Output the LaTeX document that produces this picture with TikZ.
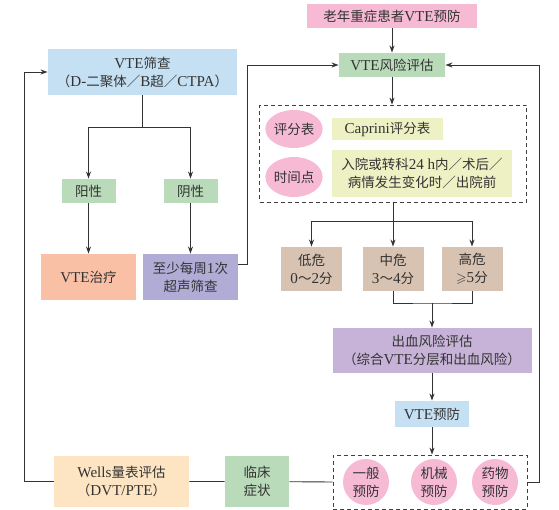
\documentclass[tikz,border=0pt]{standalone}
\usepackage{fontspec}
\usepackage{amssymb}
\setmainfont{Liberation Serif}[Scale=1.12]
\newfontfamily\cjk{Noto Sans CJK SC}
\usetikzlibrary{arrows.meta,shapes.geometric}
\definecolor{cpink}{HTML}{F7BAD5}
\definecolor{cgreen}{HTML}{B9DBBA}
\definecolor{cyellow}{HTML}{EEF1C3}
\definecolor{ctan}{HTML}{D8C3B2}
\definecolor{cpurple}{HTML}{C8B3D8}
\definecolor{cblue}{HTML}{C6E0F3}
\definecolor{corange}{HTML}{FDE4C3}
\definecolor{csalmon}{HTML}{F9C0A6}
\definecolor{clavender}{HTML}{B1ACD6}
\begin{document}
\begin{tikzpicture}[x=1pt,y=-1pt,line width=0.9pt,>={Stealth[length=7pt,width=5pt]},
  box/.style={inner sep=0pt,align=center,text=black!80,
    font=\cjk\fontsize{13.5}{18}\selectfont},
  wh/.style 2 args={minimum width=#1pt,minimum height=#2pt},
  dashbox/.style={draw=black!75,dash pattern=on 4pt off 3pt,line width=0.8pt,inner sep=0pt},
  link/.style={draw=black!80}]
\useasboundingbox (0,0) rectangle (559,510);
% ================= right column: risk assessment =================
\node[box,fill=cpink,wh={170}{24}] (elder) at (392,16) {老年重症患者\textrm{VTE}预防};
\node[box,fill=cgreen,wh={106}{24}] (risk) at (392,65) {\textrm{VTE}风险评估};
\node[dashbox,wh={267}{97}] (evalbox) at (393,153.5) {};
\node[box,ellipse,fill=cpink,wh={56}{38}] (scale) at (294,129) {评分表};
\node[box,fill=cyellow,wh={111}{22}] (caprini) at (387.5,129) {\textrm{Caprini}评分表};
\node[box,ellipse,fill=cpink,wh={56}{40}] (timing) at (294,177) {时间点};
\node[box,fill=cyellow,wh={180}{47}] (moment) at (422,173.5)
  {入院或转科\textrm{24 h}内／术后／\\病情发生变化时／出院前};
% risk levels
\node[box,fill=ctan,wh={61}{44}] (low) at (311.5,269) {低危\\\textrm{0}～\textrm{2}分};
\node[box,fill=ctan,wh={61}{44}] (mid) at (393,269) {中危\\\textrm{3}～\textrm{4}分};
\node[box,fill=ctan,wh={61}{44}] (high) at (472,269) {高危\\$\geqslant$\textrm{5}分};
\node[box,fill=cpurple,wh={199}{45}] (bleed) at (432,350.5)
  {出血风险评估\\（综合\textrm{VTE}分层和出血风险）};
\node[box,fill=cblue,wh={74}{26}] (prev) at (432,414) {\textrm{VTE}预防};
\node[dashbox,wh={194}{54}] (measure) at (430,482) {};
\foreach \name/\x/\txt in {general/366/一般, mech/434/机械, drug/495/药物}
  \node[box,circle,fill=cpink,minimum size=46pt] (\name) at (\x,482) {\txt\\预防};
% ================= left column: screening =================
\node[box,fill=cblue,wh={189}{46}] (screen) at (142.5,72)
  {\textrm{VTE}筛查\\（\textrm{D-}二聚体／\textrm{B}超／\textrm{CTPA}）};
\node[box,fill=cgreen,wh={54}{24}] (pos) at (88.5,191) {阳性};
\node[box,fill=cgreen,wh={54}{24}] (neg) at (190.5,191) {阴性};
\node[box,fill=csalmon,wh={95}{46}] (treat) at (88.5,277) {\textrm{VTE}治疗};
\node[box,fill=clavender,wh={95}{46}] (weekly) at (190.5,277) {至少每周\textrm{1}次\\超声筛查};
\node[box,fill=corange,wh={135}{51}] (wells) at (121.5,481.5) {\textrm{Wells}量表评估\\（\textrm{DVT/PTE}）};
\node[box,fill=cgreen,wh={64}{51}] (clinic) at (257,481.5) {临床\\症状};
% ================= connectors =================
\draw[link,->] (elder) -- (risk);
\draw[link,->] (risk) -- (risk |- evalbox.north);
\draw[link] (evalbox.south) -- ++(0,19) coordinate (split);
\draw[link,->] (split) -| (low);
\draw[link,->] (split) -| (high);
\draw[link,->] (split) -- (mid);
\coordinate (join) at (432,303);
\draw[link] (mid.south) |- (join) -| (high.south);
\draw[link,->] (join) -- (bleed);
\draw[link,->] (bleed) -- (prev);
\draw[link,->] (prev) -- (prev |- measure.north);
\draw[link,->] (measure.east) -- ++(12,0) |- (risk.east);
\draw[link] (measure.west) -- (clinic) -- (wells);
\draw[link,->] (wells.west) -- ++(-29,0) |- (screen.west);
\draw[link] (screen.south) -- ++(0,32) coordinate (fork);
\draw[link,->] (fork) -| (pos);
\draw[link,->] (fork) -| (neg);
\draw[link,->] (pos) -- (treat);
\draw[link,->] (neg) -- (weekly);
\draw[link,->] ([yshift=13pt]weekly.east) -- ++(9,0) |- (risk.west);
\end{tikzpicture}
\end{document}
